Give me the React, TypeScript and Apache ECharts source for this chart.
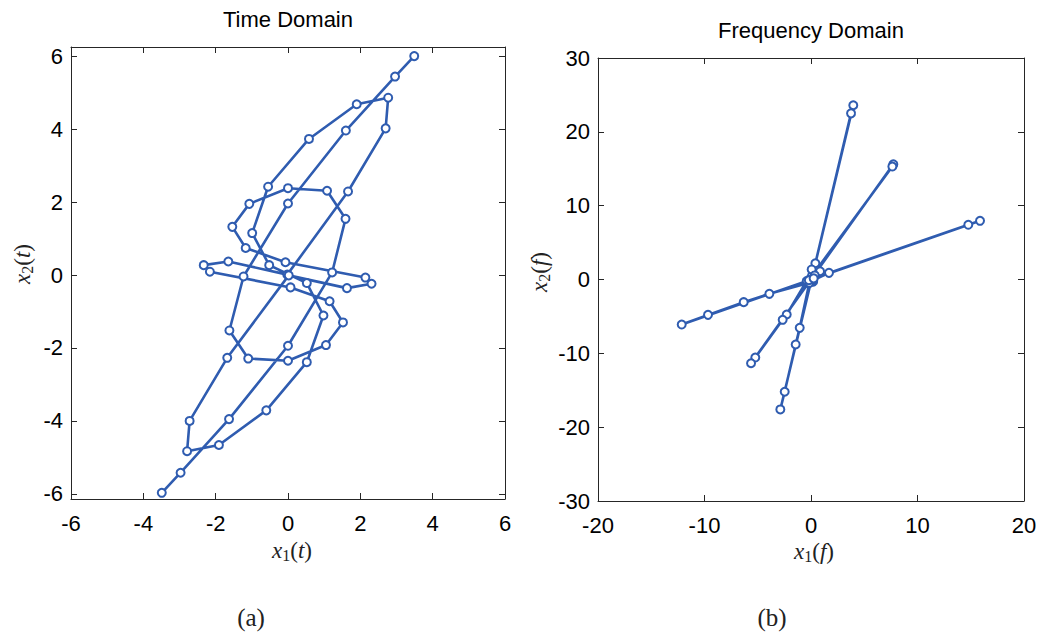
import { useEffect, useRef } from 'react';
import * as echarts from 'echarts';

// Time-domain trajectory (x1(t), x2(t)), in sample order
const timeX1 = [3.49, 2.96, 1.60, 0.00, -1.23, -1.62, -1.10, 0.00, 1.05, 1.52, 1.15, 0.07, -2.16, -2.33, -1.65, -0.02, 1.66, 2.70, 2.77, 1.90, 0.58, -0.55, -0.99, -0.52, 0.52, 0.98, 0.52, -0.60, -1.91, -2.79, -2.72, -1.68, 0.02, 1.63, 2.31, 2.14, -0.07, -1.17, -1.54, -1.07, 0.00, 1.08, 1.59, 1.22, 0.00, -1.63, -2.97, -3.49];
const timeX2 = [6.00, 5.44, 3.96, 1.96, -0.04, -1.52, -2.29, -2.35, -1.92, -1.30, -0.72, -0.34, 0.09, 0.27, 0.37, 0.01, 2.29, 4.02, 4.86, 4.68, 3.73, 2.42, 1.15, 0.27, -0.22, -1.11, -2.39, -3.71, -4.66, -4.83, -4.00, -2.27, -0.01, -0.36, -0.24, -0.07, 0.35, 0.74, 1.32, 1.95, 2.38, 2.31, 1.54, 0.07, -1.94, -3.95, -5.42, -5.97];

// Frequency-domain points (x1(f), x2(f))
const freqX1 = [0.06, 0.30, -0.30, -0.10, 0.20, -3.91, -6.32, -9.67, -12.14, 15.87, 14.77, 1.69, 0.20, -0.25, -0.40, -2.28, -2.66, -5.23, -5.63, 7.73, 7.64, 0.53, 0.10, -0.15, -1.06, -1.44, -2.47, -2.88, 3.97, 3.76, 0.41, 0.06, 0.85, 0.35, 0.00, -0.20, 0.25];
const freqX2 = [0.23, 0.40, -0.35, 0.05, -0.30, -1.94, -3.07, -4.79, -6.10, 7.95, 7.41, 0.90, -0.10, -0.50, -0.20, -4.74, -5.46, -10.57, -11.34, 15.60, 15.30, 1.36, 0.50, -0.45, -6.55, -8.80, -15.20, -17.60, 23.60, 22.50, 2.20, 1.36, 1.12, 0.55, 0.00, -0.10, 0.15];

const timeRange = { xMin: -6, xMax: 6, xStep: 2, yMin: -6.14, yMax: 6.25 };
const freqRange = { xMin: -20, xMax: 20, xStep: 10, yMin: -30, yMax: 30, yStep: 10 };

const BLUE = '#2f5cb0';
const FRAME = '#262626';
const SANS = 'Liberation Sans, Arial, Helvetica, sans-serif';
const SERIF = 'Liberation Serif, Times New Roman, serif';

export default function App() {
  const ref = useRef<HTMLDivElement>(null);
  useEffect(() => {
    document.body.style.margin = '0';
    const chart = echarts.init(ref.current!, null, { renderer: 'svg' });
    const tickLabel = { fontFamily: SANS, fontSize: 22, color: '#000' };
    const frame = (extra: any) => ({
      type: 'value',
      axisLine: { show: true, onZero: false, lineStyle: { color: FRAME, width: 1 } },
      axisTick: { show: true, inside: true, length: 6, lineStyle: { color: FRAME, width: 1 } },
      splitLine: { show: false },
      ...extra,
    });
    const mirror = { axisLabel: { show: false } };
    const rich = {
      i: { fontFamily: SERIF, fontStyle: 'italic', fontSize: 23, fill: '#222' },
      n: { fontFamily: SERIF, fontSize: 23, fill: '#222' },
      s: { fontFamily: SERIF, fontSize: 16, fill: '#222', padding: [11, 0, 0, 0] },
    };
    const label = (x: number, y: number, text: string, rot = 0) => ({
      type: 'text', x, y, rotation: rot,
      style: { text, rich, textAlign: 'center', textVerticalAlign: 'middle' },
    });
    const seriesStyle = {
      symbol: 'emptyCircle', symbolSize: 8, showAllSymbol: true,
      lineStyle: { color: BLUE, width: 2.6 },
      itemStyle: { color: BLUE, borderWidth: 2.2 },
      emphasis: { disabled: true },
    };
    const option: any = {
      animation: false,
      backgroundColor: '#fff',
      grid: [
        { left: 71, top: 47, width: 434, height: 452 },
        { left: 598, top: 58, width: 426, height: 443 },
      ],
      xAxis: [
        frame({ gridIndex: 0, position: 'bottom', min: timeRange.xMin, max: timeRange.xMax, interval: timeRange.xStep, axisLabel: { ...tickLabel, margin: 13 } }),
        frame({ gridIndex: 0, position: 'top', min: timeRange.xMin, max: timeRange.xMax, interval: timeRange.xStep, ...mirror }),
        frame({ gridIndex: 1, position: 'bottom', min: freqRange.xMin, max: freqRange.xMax, interval: freqRange.xStep, axisLabel: { ...tickLabel, margin: 13 } }),
        frame({ gridIndex: 1, position: 'top', min: freqRange.xMin, max: freqRange.xMax, interval: freqRange.xStep, ...mirror }),
      ],
      yAxis: [
        frame({ gridIndex: 0, position: 'left', min: timeRange.yMin, max: timeRange.yMax, splitNumber: 6, axisLabel: { ...tickLabel, margin: 8, showMinLabel: false, showMaxLabel: false } }),
        frame({ gridIndex: 0, position: 'right', min: timeRange.yMin, max: timeRange.yMax, splitNumber: 6, ...mirror }),
        frame({ gridIndex: 1, position: 'left', min: freqRange.yMin, max: freqRange.yMax, interval: freqRange.yStep, axisLabel: { ...tickLabel, margin: 8 } }),
        frame({ gridIndex: 1, position: 'right', min: freqRange.yMin, max: freqRange.yMax, interval: freqRange.yStep, ...mirror }),
      ],
      series: [
        {
          type: 'line', xAxisIndex: 0, yAxisIndex: 0,
          data: timeX1.map((v, i) => [v, timeX2[i]]),
          ...seriesStyle,
        },
        {
          type: 'line', xAxisIndex: 2, yAxisIndex: 2,
          data: freqX1.map((v, i) => [v, freqX2[i]]),
          ...seriesStyle,
        },
      ],
      graphic: [
        { type: 'text', x: 288, y: 19, style: { text: 'Time Domain', font: `22px ${SANS}`, fill: '#000', textAlign: 'center', textVerticalAlign: 'middle' } },
        { type: 'text', x: 811, y: 30, style: { text: 'Frequency Domain', font: `22px ${SANS}`, fill: '#000', textAlign: 'center', textVerticalAlign: 'middle' } },
        label(292, 550, '{i|x}{s|1}{n|(}{i|t}{n|)}'),
        label(814, 551, '{i|x}{s|1}{n|(}{i|f}{n|)}'),
        label(22, 264, '{i|x}{s|2}{n|(}{i|t}{n|)}', Math.PI / 2),
        label(539, 272, '{i|x}{s|2}{n|(}{i|f}{n|)}', Math.PI / 2),
        { type: 'text', x: 251, y: 617, style: { text: '(a)', font: `25px ${SERIF}`, fill: '#222', textAlign: 'center', textVerticalAlign: 'middle' } },
        { type: 'text', x: 772, y: 617, style: { text: '(b)', font: `25px ${SERIF}`, fill: '#222', textAlign: 'center', textVerticalAlign: 'middle' } },
      ],
    };
    chart.setOption(option);
    return () => chart.dispose();
  }, []);
  return <div ref={ref} style={{ width: 1045, height: 634 }} />;
}
